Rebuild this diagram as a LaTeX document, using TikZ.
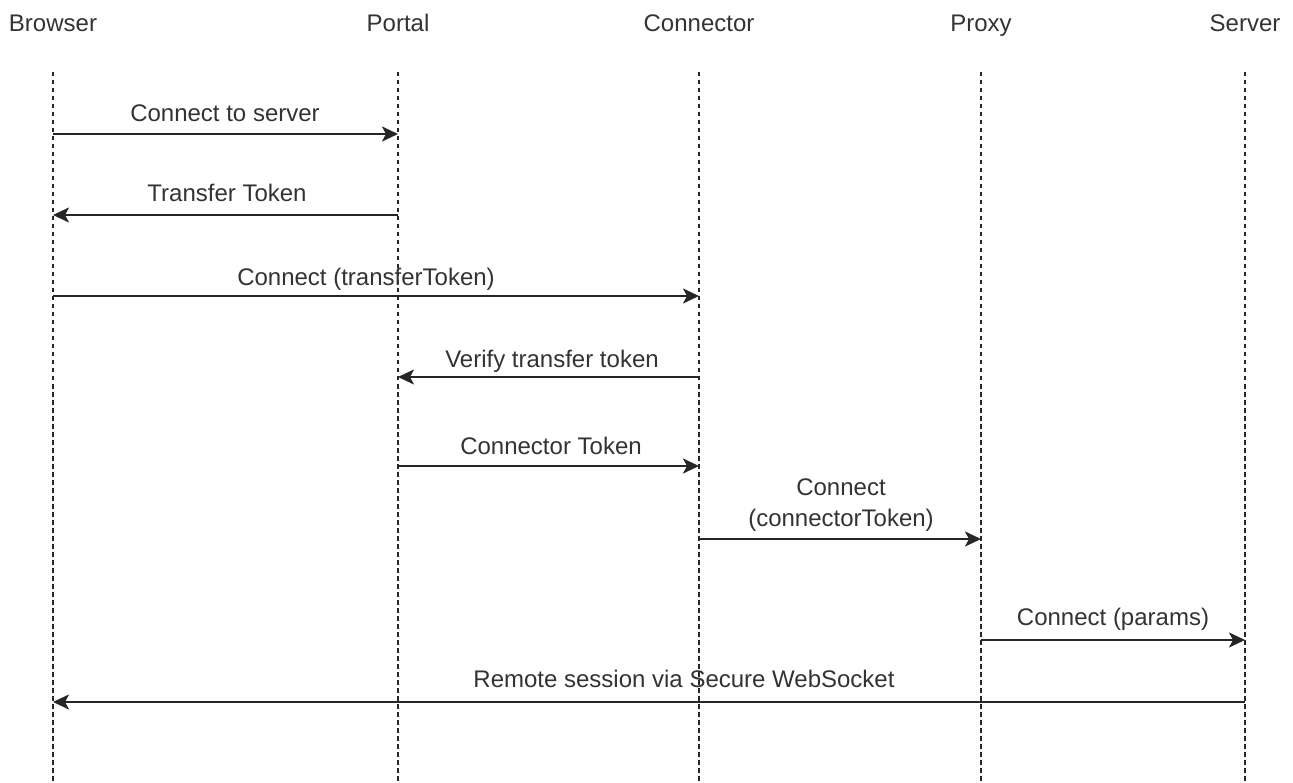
\documentclass[tikz,border=0pt]{standalone}
\usepackage{fontspec}
\setmainfont{Liberation Sans}
\usetikzlibrary{arrows.meta}
\begin{document}
\begin{tikzpicture}[x=1pt,y=-1pt,
  txt/.style={font=\fontsize{24}{31}\selectfont, text=black!80, inner sep=0pt},
  actor/.style={txt, anchor=base},
  lbl/.style={txt, anchor=base, align=center},
  life/.style={line width=2pt, dash pattern=on 4.5pt off 3.5pt, black!85},
  msg/.style={line width=2.2pt, black!85, -{Stealth[length=16pt,width=15pt,inset=4pt]}}]
\useasboundingbox (0,0) rectangle (1293,783);
% actors
\node[actor] (browser) at (53,32) {Browser};
\node[actor] (portal) at (398,32) {Portal};
\node[actor] (connector) at (699,32) {Connector};
\node[actor] (proxy) at (981,32) {Proxy};
\node[actor] (server) at (1245,32) {Server};
% lifeline ends
\coordinate (bT) at (53,72);   \coordinate (bB) at (53,783);
\coordinate (pT) at (398,72);  \coordinate (pB) at (398,783);
\coordinate (cT) at (699,72);  \coordinate (cB) at (699,783);
\coordinate (xT) at (981,72);  \coordinate (xB) at (981,783);
\coordinate (sT) at (1245,72); \coordinate (sB) at (1245,783);
\foreach \a in {b,p,c,x,s} \draw[life] (\a T) -- (\a B);
% message points
\coordinate (m1a) at (53,134);  \coordinate (m1b) at (398,134);
\coordinate (m2a) at (398,215); \coordinate (m2b) at (53,215);
\coordinate (m3a) at (53,296);  \coordinate (m3b) at (699,296);
\coordinate (m4a) at (699,377); \coordinate (m4b) at (398,377);
\coordinate (m5a) at (398,466); \coordinate (m5b) at (699,466);
\coordinate (m6a) at (699,539); \coordinate (m6b) at (981,539);
\coordinate (m7a) at (981,640); \coordinate (m7b) at (1245,640);
\coordinate (m8a) at (1245,702);\coordinate (m8b) at (53,702);
\draw[msg] (m1a) -- (m1b);
\draw[msg] (m2a) -- (m2b);
\draw[msg] (m3a) -- (m3b);
\draw[msg] (m4a) -- (m4b);
\draw[msg] (m5a) -- (m5b);
\draw[msg] (m6a) -- (m6b);
\draw[msg] (m7a) -- (m7b);
\draw[msg] (m8a) -- (m8b);
% labels
\node[lbl] (l1) at (225,121.5) {Connect to server};
\node[lbl] (l2) at (227,201.5) {Transfer Token};
\node[lbl] (l3) at (366,285.5) {Connect (transferToken)};
\node[lbl] (l4) at (552,367.5) {Verify transfer token};
\node[lbl] (l5) at (551,454.5) {Connector Token};
\node[lbl] (l6) at (841,526.5) {Connect\\(connectorToken)};
\node[lbl] (l7) at (1113,625.5) {Connect (params)};
\node[lbl] (l8) at (684,687.5) {Remote session via Secure WebSocket};
\end{tikzpicture}
\end{document}
